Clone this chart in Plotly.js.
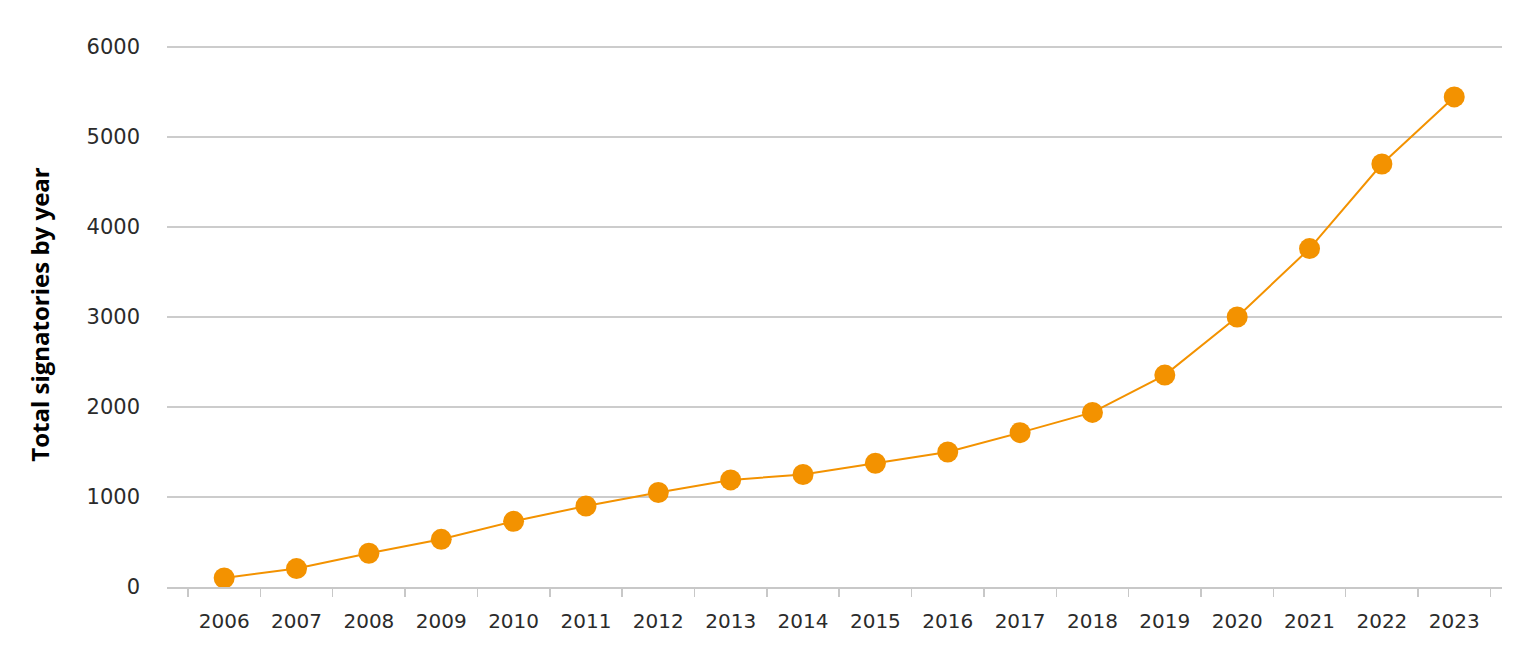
<!DOCTYPE html>
<html>
<head>
<meta charset="utf-8">
<script src="https://cdn.plot.ly/plotly-3.0.1.min.js"></script>
<style>html,body{margin:0;padding:0;background:#fff;}#chart{width:1517px;height:654px;}</style>
</head>
<body>
<div id="chart"></div>
<script>
const years = ['2006','2007','2008','2009','2010','2011','2012','2013','2014','2015','2016','2017','2018','2019','2020','2021','2022','2023'];
const signatories = [100, 205, 375, 530, 730, 900, 1050, 1190, 1250, 1375, 1500, 1715, 1940, 2355, 3000, 3760, 4700, 5445];
const yTicks = [0, 1000, 2000, 3000, 4000, 5000, 6000];
const yTitle = 'Total signatories by year';

const trace = {
  x: years, y: signatories, type: 'scatter', mode: 'lines+markers',
  line: {color: '#F39200', width: 2},
  marker: {color: '#F39200', size: 21},
  hoverinfo: 'x+y'
};
const layout = {
  width: 1517, height: 654,
  margin: {l: 167, r: 15, t: 42, b: 67},
  paper_bgcolor: '#fff', plot_bgcolor: '#fff',
  showlegend: false,
  font: {family: 'DejaVu Sans', color: '#333'},
  xaxis: {
    type: 'category', range: [-0.79, 17.66],
    showgrid: false, zeroline: false,
    showline: true, linecolor: '#c8c8c8', linewidth: 1.5,
    ticks: 'outside', tickson: 'boundaries', ticklen: 8, tickcolor: '#c8c8c8', tickwidth: 1.5,
    tickfont: {family: 'DejaVu Sans', size: 20, color: '#2b2b2b'},
    ticklabelstandoff: 15
  },
  yaxis: {
    range: [0, 6055.6], tickvals: yTicks, ticktext: yTicks.map(String),
    showgrid: true, gridcolor: '#cccccc', gridwidth: 1.5,
    zeroline: false, showline: false, ticks: '',
    tickfont: {family: 'DejaVu Sans', size: 21, color: '#2b2b2b'},
    ticklabelstandoff: 26,
    title: {text: yTitle, font: {family: 'Open Sans', size: 24, color: '#000', weight: 700}, standoff: 30},
    automargin: false
  }
};
Plotly.newPlot('chart', [trace], layout, {displayModeBar: false, staticPlot: true});
</script>
</body>
</html>
